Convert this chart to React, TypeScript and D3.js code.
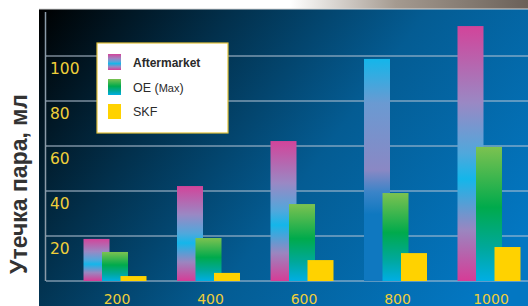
import React from "react";
import { scaleLinear, scalePoint } from "d3";

// categories and series
const categories = ["200", "400", "600", "800", "1000"];
const series = ["Aftermarket", "OE", "SKF"];
const aftermarket = [18.7, 42.2, 62.2, 98.7, 113.3];
const oe = [12.9, 19.1, 34.2, 39.1, 59.6];
const skf = [2.2, 3.6, 9.3, 12.4, 15.1];
const yTicks = [20, 40, 60, 80, 100];

const W = 528;
const H = 306;

export default function App() {
  const x = scalePoint().domain(categories).range([115, 489]);
  const sub = scalePoint().domain(series).range([-18.5, 18.5]);
  const y = scaleLinear().domain([0, 100]).range([281, 56]);
  const barW = 26;

  const values = { Aftermarket: aftermarket, OE: oe, SKF: skf };

  const fillFor = (s, i) => {
    if (s === "Aftermarket") return categories[i] === "800" ? "url(#amAlt)" : "url(#am)";
    if (s === "OE") return "url(#oe)";
    return "#ffd200";
  };

  return (
    <svg width={W} height={H} style={{ position: "absolute", left: 0, top: 0 }} fontFamily="Liberation Sans, Arial, sans-serif">
      <defs>
        <linearGradient id="bg" gradientUnits="userSpaceOnUse" x1="39" y1="9" x2="460" y2="320">
          <stop offset="0" stopColor="#000000" />
          <stop offset="0.3" stopColor="#02304c" />
          <stop offset="0.6" stopColor="#045c93" />
          <stop offset="1" stopColor="#0377c2" />
        </linearGradient>
        <linearGradient id="topStrip" x1="0" y1="0" x2="1" y2="0">
          <stop offset="0" stopColor="#ffffff" />
          <stop offset="0.55" stopColor="#ffffff" />
          <stop offset="0.75" stopColor="#a49a90" />
          <stop offset="1" stopColor="#6a6058" />
        </linearGradient>
        <linearGradient id="am" x1="0" y1="0" x2="0" y2="1">
          <stop offset="0" stopColor="#d2449a" />
          <stop offset="0.3" stopColor="#9a88c4" />
          <stop offset="0.5" stopColor="#4fa8dc" />
          <stop offset="0.6" stopColor="#14b6ea" />
          <stop offset="0.8" stopColor="#9a86c0" />
          <stop offset="1" stopColor="#d63c96" />
        </linearGradient>
        <linearGradient id="amAlt" x1="0" y1="0" x2="0" y2="1">
          <stop offset="0" stopColor="#14b6ea" />
          <stop offset="0.2" stopColor="#6a9ad2" />
          <stop offset="0.5" stopColor="#8a88c4" />
          <stop offset="0.6" stopColor="#3a84c8" />
          <stop offset="0.7" stopColor="#0f78c0" />
          <stop offset="1" stopColor="#0f78c0" />
        </linearGradient>
        <linearGradient id="oe" x1="0" y1="0" x2="0" y2="1">
          <stop offset="0" stopColor="#7cc250" />
          <stop offset="0.45" stopColor="#00aa4c" />
          <stop offset="0.75" stopColor="#00a89a" />
          <stop offset="1" stopColor="#00aee4" />
        </linearGradient>
      </defs>

      <rect x={0} y={0} width={W} height={H} fill="#ffffff" />
      <rect x={0} y={0} width={W} height={9} fill="url(#topStrip)" />
      <rect x={39} y={9} width={W - 39} height={H - 9} fill="url(#bg)" />
      <line x1={39} x2={W} y1={9} y2={9} stroke="#d8d8d8" strokeWidth={1.2} />

      {/* axis */}
      <line x1={45.5} x2={45.5} y1={12} y2={y(0)} stroke="#8a9aa8" strokeWidth={1.5} />
      {yTicks.map((t) => (
        <g key={t}>
          <line x1={46} x2={W} y1={y(t)} y2={y(t)} stroke="#b8c6d6" strokeWidth={1.2} />
          <text x={50} y={y(t) + 18} fill="#f0cf3a" fontSize={15.5} fontFamily="DejaVu Sans, sans-serif">
            {t}
          </text>
        </g>
      ))}
      <line x1={46} x2={W} y1={y(0)} y2={y(0)} stroke="#b8c6d6" strokeWidth={1.2} />

      {/* bars */}
      {series.map((s) =>
        values[s].map((v, i) => (
          <rect
            key={s + i}
            x={x(categories[i]) + sub(s) - barW / 2}
            y={y(v)}
            width={barW}
            height={y(0) - y(v)}
            fill={fillFor(s, i)}
          />
        ))
      )}

      {categories.map((c) => (
        <text key={c} x={x(c) + 2} y={304} textAnchor="middle" fill="#f0cf3a" fontSize={14} fontFamily="DejaVu Sans, sans-serif">
          {c}
        </text>
      ))}

      {/* legend */}
      <rect x={97} y={43} width={131} height={90} fill="#ffffff" stroke="#e2c23a" strokeWidth={1.2} />
      <rect x={108} y={54} width={13} height={16} fill="url(#am)" />
      <rect x={108} y={79} width={13} height={16} fill="url(#oe)" />
      <rect x={108} y={104} width={13} height={15} fill="#ffd200" />
      <text x={133} y={67} fontSize={12} fontWeight="bold" fill="#2a2a2a">Aftermarket</text>
      <text x={133} y={92} fontSize={12.5} fill="#2a2a2a">
        OE (<tspan fontSize={11}>Max</tspan>)
      </text>
      <text x={133} y={116} fontSize={12.5} fill="#2a2a2a">SKF</text>

      <text
        transform={`translate(27, 184) rotate(-90)`}
        textAnchor="middle"
        fontSize={23}
        fontWeight="bold"
        fill="#333333"
      >
        Утечка пара, мл
      </text>
    </svg>
  );
}
